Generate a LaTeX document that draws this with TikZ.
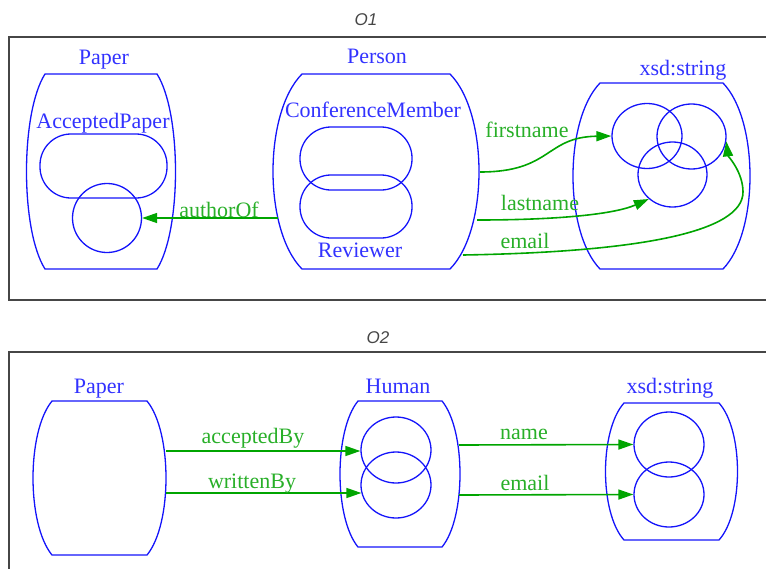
\documentclass[tikz,border=0pt]{standalone}
\usepackage{fontspec}
\setmainfont{Liberation Serif}
\newfontfamily\titlefont{Liberation Sans}
\usetikzlibrary{shapes.geometric,arrows.meta}
\definecolor{shpblue}{RGB}{20,20,250}
\definecolor{txtblue}{RGB}{50,50,255}
\definecolor{edgegreen}{RGB}{0,165,0}
\definecolor{txtgreen}{RGB}{40,175,40}
\definecolor{framegray}{RGB}{70,70,70}
\newcommand\barrel[5]{% x1 x2 top bottom bulge
  \pgfmathsetmacro\brlC{4/3*#5}%
  \pgfmathsetmacro\brlH{0.2*(#4-#3)}%
  \draw[shp] (#1,#3) -- (#2,#3) .. controls ({#2+\brlC},{#3+\brlH}) and ({#2+\brlC},{#4-\brlH}) .. (#2,#4)
    -- (#1,#4) .. controls ({#1-\brlC},{#4-\brlH}) and ({#1-\brlC},{#3+\brlH}) .. cycle;}
\tikzset{
  shp/.style={draw=shpblue, line width=1.3pt},
  lbl/.style={text=txtblue, font=\fontsize{22}{25}\selectfont, anchor=base, inner sep=0pt},
  elbl/.style={text=txtgreen, font=\fontsize{22}{25}\selectfont, anchor=base, inner sep=0pt},
  ttl/.style={text=framegray, font=\titlefont\itshape\fontsize{17}{19}\selectfont, anchor=base, inner sep=0pt},
  ring/.style={shp, ellipse, inner sep=0pt, minimum width=#1},
  ring/.default=69,
  stad/.style={shp, rectangle, rounded corners=31pt, inner sep=0pt},
  conn/.style={draw=edgegreen, line width=1.6pt, -{Triangle[length=15pt,width=10pt]}},
  frm/.style={draw=framegray, line width=1.3pt},
}
\begin{document}
\begin{tikzpicture}[x=1pt,y=-1pt]
\useasboundingbox (0,0) rectangle (766,568);
% frames
\draw[frm] (9,37) rectangle (780,300);
\draw[frm] (9,352) rectangle (780,590);
\node[ttl] (t1) at (366,25) {O1};
\node[ttl] (t2) at (378,343) {O2};

% ---------- O1 ----------
\barrel{45}{157}{74}{269}{18.5}
\node[lbl] (lpaper1) at (104,64) {Paper};
\node[lbl] (lap) at (103,128) {AcceptedPaper};
\node[stad, minimum width=127, minimum height=64] (ap) at (103.5,166) {};
\node[ring, minimum height=69] (pc) at (107,218) {};

\barrel{302}{450}{74}{269}{29}
\node[lbl] (lperson) at (377,63) {Person};
\node[lbl] (lcm) at (373,117) {ConferenceMember};
\node[stad, minimum width=112, minimum height=63] (cm) at (356,158.5) {};
\node[stad, minimum width=112, minimum height=63] (rv) at (356,206.5) {};
\node[lbl] (lrv) at (360,257) {Reviewer};

\barrel{600}{723}{83}{269}{27}
\node[lbl] (lxsd1) at (683,75) {xsd:string};
\node[ring=70, minimum height=65] (c1) at (647,136) {};
\node[ring=69, minimum height=65] (c2) at (691.5,136.5) {};
\node[ring=69, minimum height=65] (c3) at (672.5,174.5) {};

\coordinate (pw) at (278,218);
\coordinate (pe1) at (480,172);
\coordinate (pe2) at (477,220);
\coordinate (pe3) at (463,255);

\draw[conn] (pw) -- (pc.east);
\node[elbl] (lauthor) at (219,217) {authorOf};

\draw[conn] (pe1) .. controls (552,172) and (545,137) .. (c1.west);
\node[elbl] (lfirst) at (527,137) {firstname};

\draw[conn] (pe2) .. controls (560,220) and (615,214) .. (c3.226);
\node[elbl] (llast) at (540,210) {lastname};

\draw[conn] (pe3) .. controls (640,252) and (743,232) .. (743,192)
  .. controls (743,172) and (728,156) .. (c2.-8);
\node[elbl] (lemail1) at (525,248) {email};

% ---------- O2 ----------
\barrel{52}{147}{401}{555}{19}
\node[lbl] (lpaper2) at (99,393) {Paper};

\barrel{358}{442}{401}{547}{18}
\node[lbl] (lhuman) at (398,393) {Human};
\node[ring=70, minimum height=66] (h1) at (396,450) {};
\node[ring=70, minimum height=66] (h2) at (396,485) {};

\barrel{624}{719}{403}{540}{18.5}
\node[lbl] (lxsd2) at (670,393) {xsd:string};
\node[ring=70, minimum height=65] (s1) at (669,444.5) {};
\node[ring=70, minimum height=65] (s2) at (669,494.5) {};

\coordinate (pa1) at (166,451);
\coordinate (pa2) at (166,493);
\coordinate (hu1) at (459,445);
\coordinate (hu2) at (459,495);

\draw[conn] (pa1) -- (h1.west |- pa1);
\node[elbl] (lacc) at (253,443) {acceptedBy};
\draw[conn] (pa2) -- (h2.193);
\node[elbl] (lwrit) at (252,488) {writtenBy};

\draw[conn] (hu1) -- (s1.west);
\node[elbl] (lname) at (524,439) {name};
\draw[conn] (hu2) -- (s2.west);
\node[elbl] (lemail2) at (525,490) {email};
\end{tikzpicture}
\end{document}
